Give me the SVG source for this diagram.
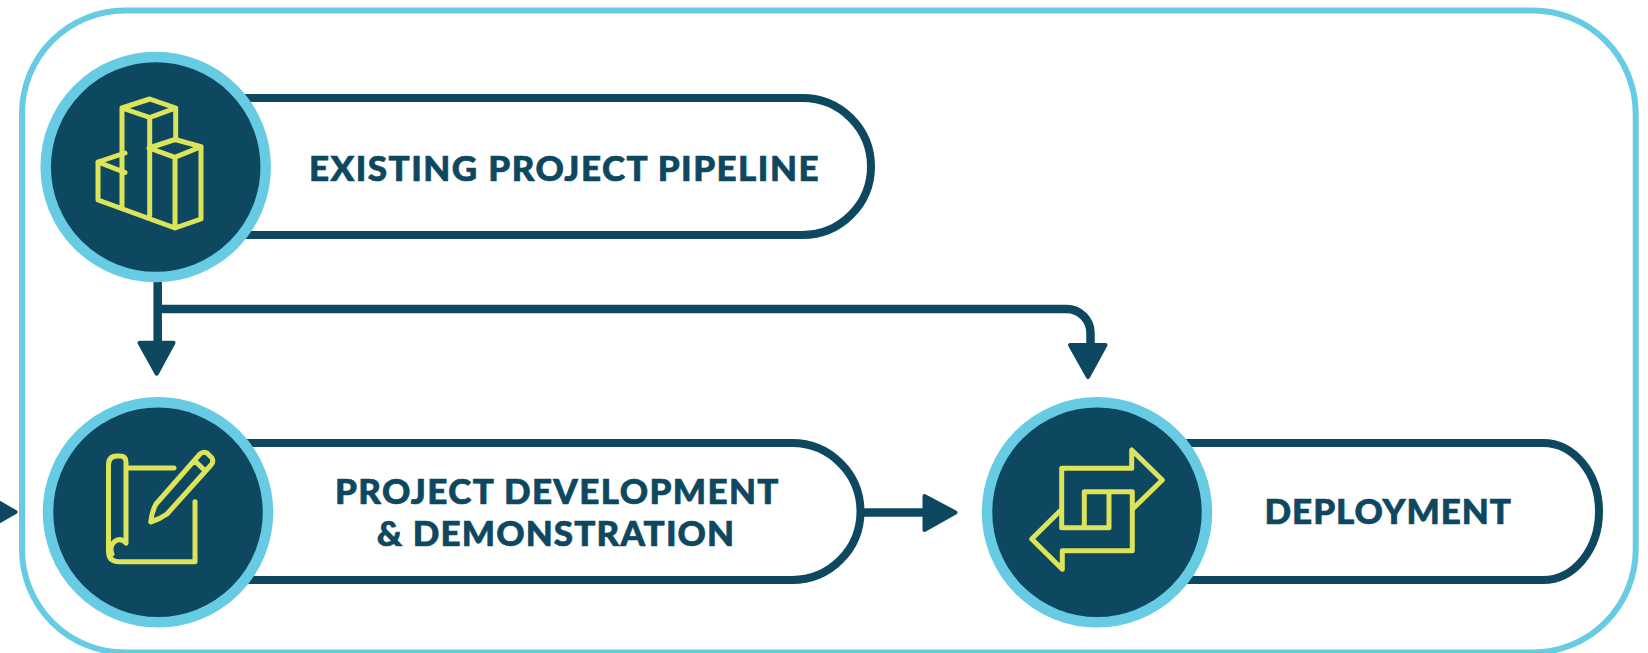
<svg xmlns="http://www.w3.org/2000/svg" width="1648" height="653" viewBox="0 0 1648 653">
<defs><style>
.pill{fill:#fff;stroke:#0d4860;stroke-width:8}
.disc{fill:#0d4860;stroke:#68cbe4;stroke-width:10.5}
.ic{fill:none;stroke:#dde45a;stroke-width:5;stroke-linejoin:round;stroke-linecap:round}
.ln{fill:none;stroke:#0d4860;stroke-width:8.5}
.hd{fill:#0d4860;stroke:#0d4860;stroke-width:4;stroke-linejoin:round}
text{font-family:"Lato","Liberation Sans",sans-serif;font-weight:900;font-size:35px;fill:#0d4860;stroke:#0d4860;stroke-width:0.7px}
</style></defs>
<rect id="frame" x="22" y="10.500" width="1613.700" height="642" rx="103" ry="103" fill="#fff" stroke="#68cbe4" stroke-width="6"/>
<g id="connectors">
<path class="hd" d="M-2 502L15.500 512L-2 522Z"/>
<path class="ln" d="M157.700 270V342M157.700 309H1066.500A24 24 0 0 1 1090.500 333V345"/>
<path class="hd" d="M139.500 342.700H173.500L156.700 373.700Z"/>
<path class="hd" d="M1070 345H1105.500L1088 377Z"/>
<path class="ln" d="M860 512.500H925"/>
<path class="hd" d="M924.500 496L955.500 512.500L924.500 530Z"/>
</g>
<g id="node-pipeline">
<path class="pill" d="M155 98H802.500A68.500 68.500 0 0 1 802.500 235H155Z"/>
<circle class="disc" cx="155.700" cy="167" r="110"/>
<path class="ic" d="M122 108L149.700 99L175.700 108L149.700 117.500ZM122 108V208M149.700 117.500V215M175.700 108V140M149 148L175 139.500L201 146.700L175 157.300ZM175 157.300V228M201 146.700V219L175 228L98 200V162L125 153M98 162L125 172.500"/>
<text x="309" y="180.500" textLength="509.500" lengthAdjust="spacing">EXISTING PROJECT PIPELINE</text>
</g>
<g id="node-development">
<path class="pill" d="M158 443H792A68.500 68.500 0 0 1 792 580H158Z"/>
<circle class="disc" cx="158" cy="512.300" r="110"/>
<path class="ic" d="M126 543V462Q126 456 120 456H117Q108.500 456 108.500 465V551Q108.500 561.700 119 561.700H195V501.700M127 468H174M126 543Q120 537 114 542Q109 547 112 554M150.700 522Q152 511 156 504L200 454Q203 451 207 453L212 458Q214 462 211 465L167 514Q160 519 150.700 522ZM195 461L205 470.700"/>
<text x="335" y="504.300" textLength="443.500" lengthAdjust="spacing">PROJECT DEVELOPMENT</text>
<text x="376.700" y="546" textLength="357.500" lengthAdjust="spacing">&amp; DEMONSTRATION</text>
</g>
<g id="node-deployment">
<path class="pill" d="M1097 443H1543A56 68.500 0 0 1 1543 580H1097Z"/>
<circle class="disc" cx="1097" cy="512.300" r="110"/>
<path class="ic" d="M1133.300 508.300L1162.300 480L1131.700 450V468.300H1061.700V527.700H1109V491.700M1084.300 527.700V491.700H1132.300V550.700H1062.300V569.300L1031.700 539L1061 510"/>
<text x="1264.500" y="524.300" textLength="246.500" lengthAdjust="spacing">DEPLOYMENT</text>
</g>
</svg>
